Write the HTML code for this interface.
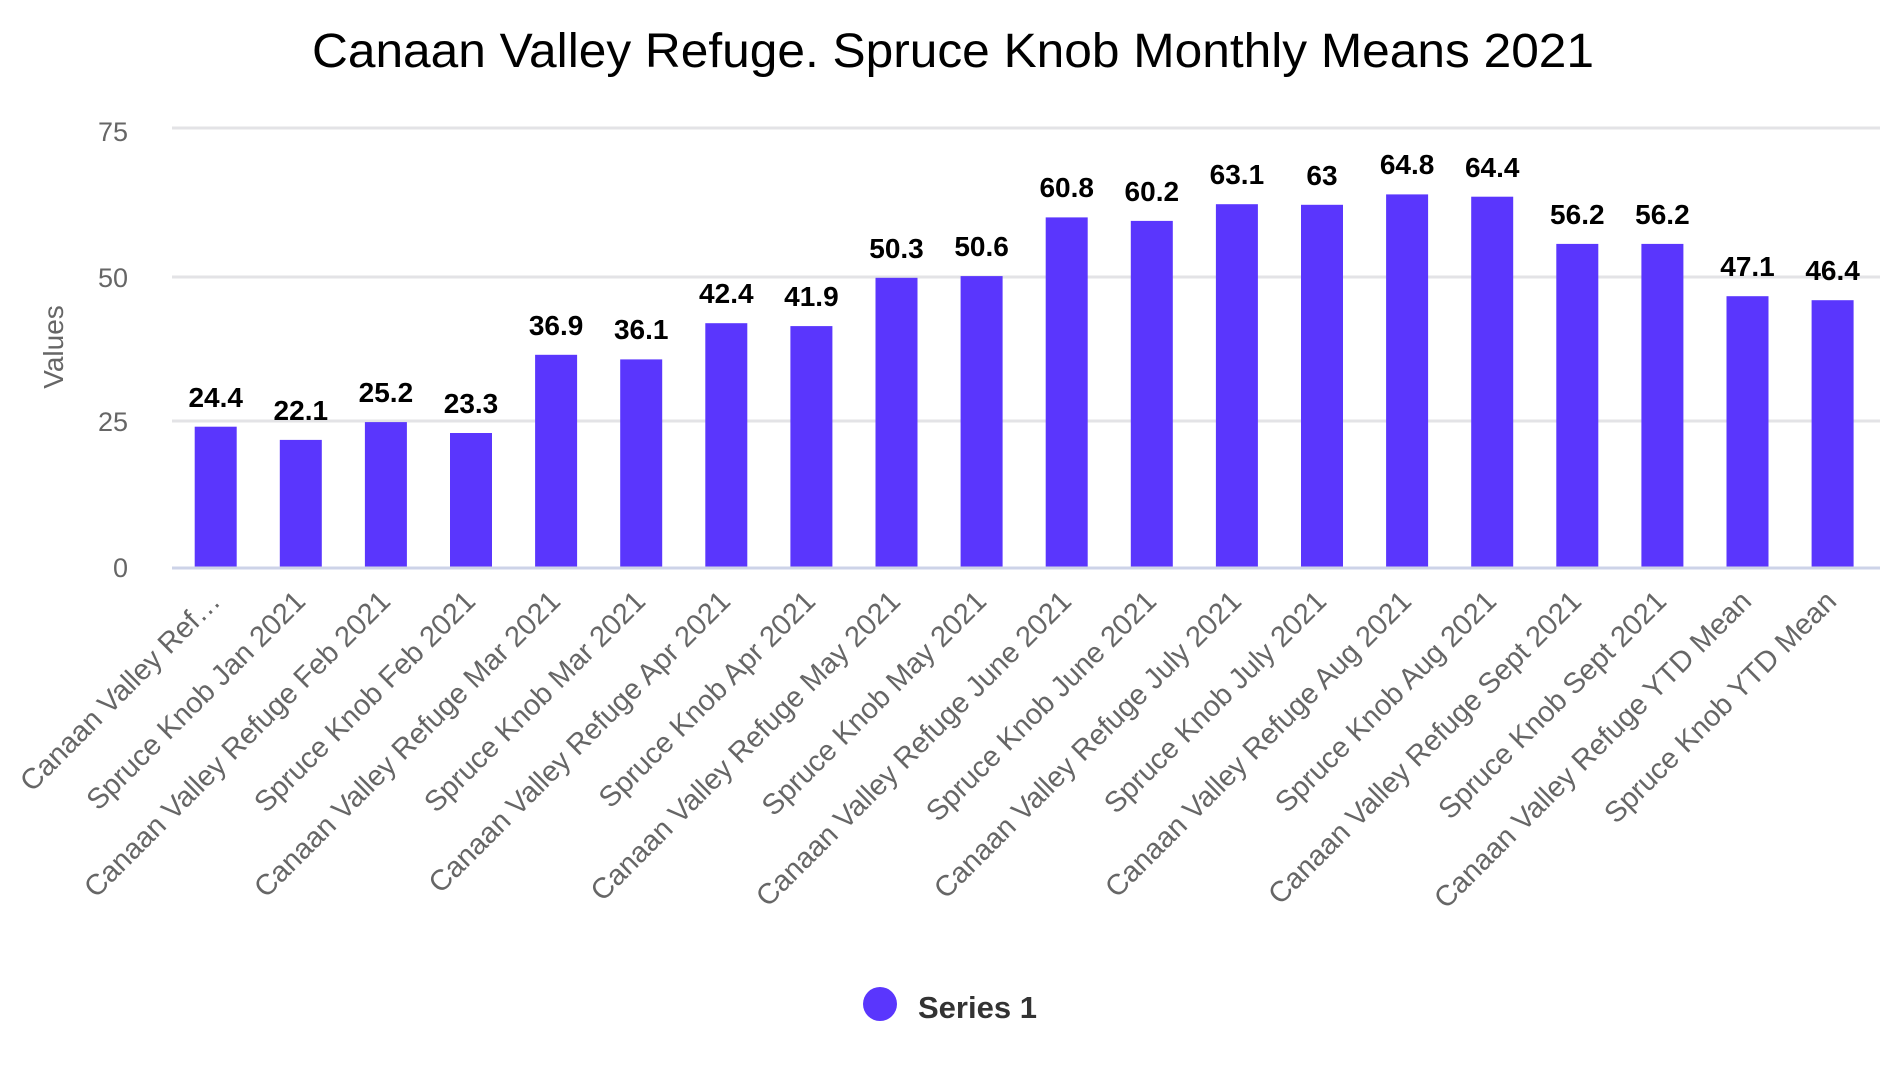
<!DOCTYPE html>
<html><head><meta charset="utf-8"><style>
html,body{margin:0;padding:0;background:#fff;}
svg{display:block;font-family:"Liberation Sans",Arial,sans-serif;}
.v{font-weight:bold;font-size:28px;fill:#000;text-anchor:middle;}
.x{font-size:29px;fill:#666;text-anchor:end;}
.t{font-size:27px;fill:#666;text-anchor:end;}
</style></head><body>
<svg width="1897" height="1080" viewBox="0 0 1897 1080">
<text x="953" y="67" font-size="48" text-anchor="middle" fill="#000" textLength="1282" lengthAdjust="spacingAndGlyphs">Canaan Valley Refuge. Spruce Knob Monthly Means 2021</text>
<g stroke="#e3e3e6" stroke-width="3">
<line x1="172" y1="128" x2="1880" y2="128"/>
<line x1="172" y1="277" x2="1880" y2="277"/>
<line x1="172" y1="421" x2="1880" y2="421"/>
</g>
<text class="t" x="128" y="141">75</text>
<text class="t" x="128" y="287">50</text>
<text class="t" x="128" y="431">25</text>
<text class="t" x="128" y="577">0</text>
<text transform="translate(63,347) rotate(-90)" font-size="28" fill="#666" text-anchor="middle">Values</text>
<g fill="#5a36fd">
<rect x="194.7" y="426.7" width="42" height="140.3"/>
<rect x="279.8" y="439.9" width="42" height="127.1"/>
<rect x="364.9" y="422.1" width="42" height="144.9"/>
<rect x="450" y="433" width="42" height="134"/>
<rect x="535.1" y="354.8" width="42" height="212.2"/>
<rect x="620.2" y="359.4" width="42" height="207.6"/>
<rect x="705.3" y="323.2" width="42" height="243.8"/>
<rect x="790.4" y="326.1" width="42" height="240.9"/>
<rect x="875.5" y="277.8" width="42" height="289.2"/>
<rect x="960.6" y="276.1" width="42" height="290.9"/>
<rect x="1045.7" y="217.4" width="42" height="349.6"/>
<rect x="1130.8" y="220.9" width="42" height="346.1"/>
<rect x="1215.9" y="204.2" width="42" height="362.8"/>
<rect x="1301" y="204.8" width="42" height="362.2"/>
<rect x="1386.1" y="194.4" width="42" height="372.6"/>
<rect x="1471.2" y="196.7" width="42" height="370.3"/>
<rect x="1556.3" y="243.9" width="42" height="323.1"/>
<rect x="1641.4" y="243.9" width="42" height="323.1"/>
<rect x="1726.5" y="296.2" width="42" height="270.8"/>
<rect x="1811.6" y="300.2" width="42" height="266.8"/>
</g>
<line x1="172" y1="568" x2="1880" y2="568" stroke="#cdd3e8" stroke-width="3"/>
<g>
<text class="v" x="215.7" y="407">24.4</text>
<text class="v" x="300.8" y="420">22.1</text>
<text class="v" x="385.9" y="402">25.2</text>
<text class="v" x="471" y="413">23.3</text>
<text class="v" x="556.1" y="335">36.9</text>
<text class="v" x="641.2" y="339">36.1</text>
<text class="v" x="726.3" y="303">42.4</text>
<text class="v" x="811.4" y="306">41.9</text>
<text class="v" x="896.5" y="258">50.3</text>
<text class="v" x="981.6" y="256">50.6</text>
<text class="v" x="1066.7" y="197">60.8</text>
<text class="v" x="1151.8" y="201">60.2</text>
<text class="v" x="1236.9" y="184">63.1</text>
<text class="v" x="1322" y="185">63</text>
<text class="v" x="1407.1" y="174">64.8</text>
<text class="v" x="1492.2" y="177">64.4</text>
<text class="v" x="1577.3" y="224">56.2</text>
<text class="v" x="1662.4" y="224">56.2</text>
<text class="v" x="1747.5" y="276">47.1</text>
<text class="v" x="1832.6" y="280">46.4</text>
</g>
<g>
<text class="x" transform="translate(222,603) rotate(-45)">Canaan Valley Ref…</text>
<text class="x" transform="translate(307,603) rotate(-45)">Spruce Knob Jan 2021</text>
<text class="x" transform="translate(392,603) rotate(-45)">Canaan Valley Refuge Feb 2021</text>
<text class="x" transform="translate(477,603) rotate(-45)">Spruce Knob Feb 2021</text>
<text class="x" transform="translate(562,603) rotate(-45)">Canaan Valley Refuge Mar 2021</text>
<text class="x" transform="translate(647,603) rotate(-45)">Spruce Knob Mar 2021</text>
<text class="x" transform="translate(732,603) rotate(-45)">Canaan Valley Refuge Apr 2021</text>
<text class="x" transform="translate(817,603) rotate(-45)">Spruce Knob Apr 2021</text>
<text class="x" transform="translate(902,603) rotate(-45)">Canaan Valley Refuge May 2021</text>
<text class="x" transform="translate(988,603) rotate(-45)">Spruce Knob May 2021</text>
<text class="x" transform="translate(1073,603) rotate(-45)">Canaan Valley Refuge June 2021</text>
<text class="x" transform="translate(1158,603) rotate(-45)">Spruce Knob June 2021</text>
<text class="x" transform="translate(1243,603) rotate(-45)">Canaan Valley Refuge July 2021</text>
<text class="x" transform="translate(1328,603) rotate(-45)">Spruce Knob July 2021</text>
<text class="x" transform="translate(1413,603) rotate(-45)">Canaan Valley Refuge Aug 2021</text>
<text class="x" transform="translate(1498,603) rotate(-45)">Spruce Knob Aug 2021</text>
<text class="x" transform="translate(1583,603) rotate(-45)">Canaan Valley Refuge Sept 2021</text>
<text class="x" transform="translate(1668,603) rotate(-45)">Spruce Knob Sept 2021</text>
<text class="x" transform="translate(1753,603) rotate(-45)">Canaan Valley Refuge YTD Mean</text>
<text class="x" transform="translate(1838,603) rotate(-45)">Spruce Knob YTD Mean</text>
</g>
<circle cx="880" cy="1004" r="17" fill="#5a36fd"/>
<text x="918" y="1018" font-size="31" font-weight="bold" fill="#333">Series 1</text>
</svg>
</body></html>
